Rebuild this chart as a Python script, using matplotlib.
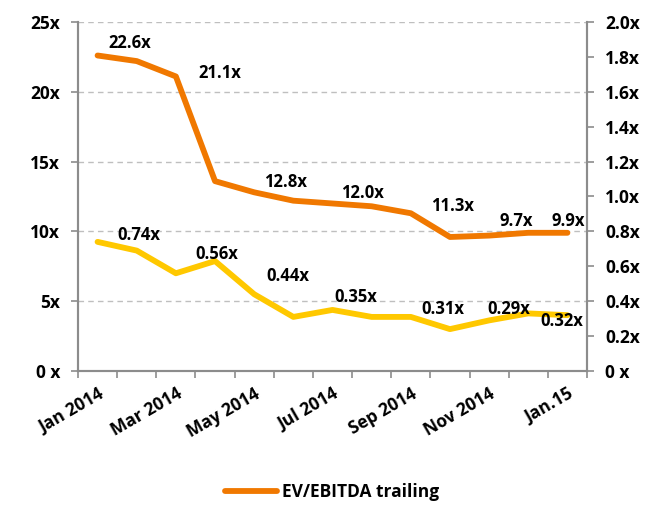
import numpy as np
import matplotlib.pyplot as plt
from matplotlib.lines import Line2D

plt.rcParams['font.family'] = ['Open Sans', 'DejaVu Sans']
plt.rcParams['font.weight'] = 'bold'

months = ['Jan 2014', 'Feb 2014', 'Mar 2014', 'Apr 2014', 'May 2014', 'Jun 2014',
          'Jul 2014', 'Aug 2014', 'Sep 2014', 'Oct 2014', 'Nov 2014', 'Dec 2014', 'Jan.15']
tick_labels = ['Jan 2014', '', 'Mar 2014', '', 'May 2014', '', 'Jul 2014', '',
               'Sep 2014', '', 'Nov 2014', '', 'Jan.15']
ev_ebitda = [22.6, 22.2, 21.1, 13.6, 12.8, 12.2, 12.0, 11.8, 11.3, 9.6, 9.7, 9.9, 9.9]
ev_sales = [0.74, 0.69, 0.56, 0.63, 0.44, 0.31, 0.35, 0.31, 0.31, 0.24, 0.29, 0.33, 0.32]

# labelled points and their label offsets (pixels)
label_idx = [0, 2, 4, 6, 8, 10, 12]
ev_offsets = [(32, 13), (44, 3), (31, 10), (30, 10), (42, 7), (27, 15), (1, 12)]
sales_offsets = [(41, 7), (41, 19), (34, 18), (23, 13), (32, 8), (20, 11), (-6, -6)]

orange = '#F07800'
yellow = '#FFC800'
grey = '#8C8C8C'

fig = plt.figure(figsize=(6.64, 5.05), dpi=100)
ax = fig.add_axes([78 / 664, 1 - 371 / 505, (587 - 78) / 664, (371 - 22) / 505])
ax2 = ax.twinx()

x = np.arange(len(months))
ax.plot(x, ev_ebitda, color=orange, lw=4.2, solid_capstyle='round', solid_joinstyle='round', zorder=3)
ax2.plot(x, ev_sales, color=yellow, lw=4.2, solid_capstyle='round', solid_joinstyle='round', zorder=3)

ax.set_xlim(-0.5, len(months) - 0.5)
ax.set_ylim(0, 25)
ax2.set_ylim(0, 2.0)

ax.set_yticks(np.arange(0, 26, 5))
ax.set_yticklabels(['0 x'] + ['%dx' % v for v in range(5, 26, 5)])
ax2.set_yticks(np.arange(0, 2.01, 0.2))
ax2.set_yticklabels(['0 x'] + ['%.1fx' % v for v in np.arange(0.2, 2.01, 0.2)])

ax.yaxis.grid(True, color='#BFBFBF', linestyle=(0, (4, 3)), lw=1)
ax.set_axisbelow(True)

ax.set_xticks(x)
ax.set_xticklabels(tick_labels, rotation=30, ha='right', va='top', rotation_mode='anchor')
ax.set_xticks(np.arange(-0.5, len(months), 1), minor=True)
ax.tick_params(axis='x', which='major', length=0, pad=10, labelsize=12.5)
ax.tick_params(axis='x', which='minor', length=5, color=grey, width=1.2)
ax.tick_params(axis='y', length=5, color=grey, width=1.2, labelsize=12.5, pad=8)
ax2.tick_params(axis='y', length=5, color=grey, width=1.2, labelsize=12.5, pad=8)
for lbl in ax.get_xticklabels() + ax.get_yticklabels() + ax2.get_yticklabels():
    lbl.set_fontweight('bold')

for a in (ax, ax2):
    a.spines['top'].set_visible(False)
    for s in ('left', 'right', 'bottom'):
        a.spines[s].set_color(grey)
        a.spines[s].set_linewidth(1.5)

for i, (dx, dy) in zip(label_idx, ev_offsets):
    ax.annotate('%.1fx' % ev_ebitda[i], (x[i], ev_ebitda[i]), xytext=(dx * 0.72, dy * 0.72),
                textcoords='offset points', ha='center', va='center', fontsize=12,
                fontweight='bold', zorder=5)
for i, (dx, dy) in zip(label_idx, sales_offsets):
    ax2.annotate('%.2fx' % ev_sales[i], (x[i], ev_sales[i]), xytext=(dx * 0.72, dy * 0.72),
                 textcoords='offset points', ha='center', va='center', fontsize=12,
                 fontweight='bold', zorder=5)

handle = Line2D([], [], color=orange, lw=4.2, solid_capstyle='round')
fig.legend([handle], ['EV/EBITDA trailing'], loc='center', bbox_to_anchor=(0.5, 1 - 492 / 505),
           frameon=False, handlelength=3.0, handletextpad=0.3,
           prop={'size': 12.5, 'weight': 'bold'})

fig.savefig('out.png', dpi=100)
